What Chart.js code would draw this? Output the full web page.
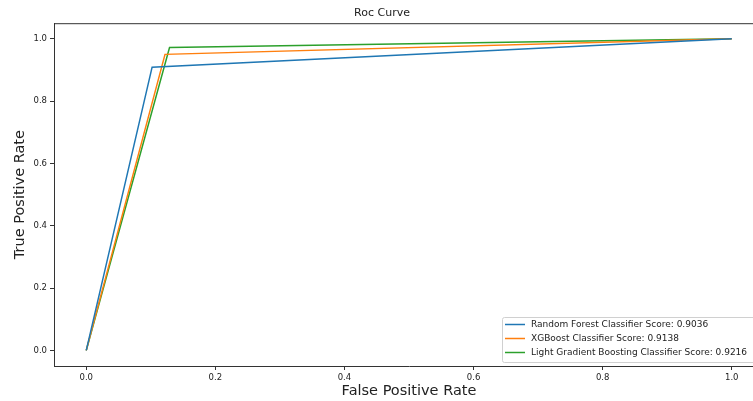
<!DOCTYPE html>
<html>
<head>
<meta charset="utf-8">
<script src="https://cdn.jsdelivr.net/npm/chart.js@4.4.0/dist/chart.umd.min.js"></script>
<style>
  html, body { margin: 0; padding: 0; background: #fff; overflow: hidden; }
  #roc { display: block; }
</style>
</head>
<body>
<canvas id="roc" width="800" height="401"></canvas>
<script>
// ROC points (false positive rate, true positive rate) per model
const seriesNames = [
    "Random Forest Classifier Score: 0.9036",
    "XGBoost Classifier Score: 0.9138",
    "Light Gradient Boosting Classifier Score: 0.9216",
];
const rfFpr = [0, 0.102, 1];
const rfTpr = [0, 0.909, 1];
const xgbFpr = [0, 0.122, 1];
const xgbTpr = [0, 0.950, 1];
const lgbFpr = [0, 0.129, 1];
const lgbTpr = [0, 0.972, 1];
const tickValues = [0, 0.2, 0.4, 0.6, 0.8, 1.0];
const colors = ["#1f77b4", "#ff7f0e", "#2ca02c"];

const FONT = "'DejaVu Sans', sans-serif";

function toPoints(xs, ys) {
    return xs.map((x, i) => ({ x: x, y: ys[i] }));
}

const datasets = [
    [rfFpr, rfTpr],
    [xgbFpr, xgbTpr],
    [lgbFpr, lgbTpr],
].map((pair, i) => ({
    label: seriesNames[i],
    data: toPoints(pair[0], pair[1]),
    borderColor: colors[i],
    backgroundColor: colors[i],
    borderWidth: 1.5,
    showLine: true,
    pointRadius: 0,
    tension: 0,
}));

// top/right spines
const frame = {
    id: "frame",
    afterDraw(chart) {
        const { ctx, chartArea: a } = chart;
        ctx.save();
        ctx.strokeStyle = "#333";
        ctx.lineWidth = 1;
        ctx.beginPath();
        ctx.moveTo(a.left, a.top + 0.5);
        ctx.lineTo(a.right, a.top + 0.5);
        ctx.lineTo(a.right, a.bottom);
        ctx.stroke();
        ctx.restore();
    },
};

// matplotlib style legend in the lower right corner
const boxLegend = {
    id: "boxLegend",
    afterDraw(chart) {
        const { ctx, chartArea: a } = chart;
        const x = 502, y = 317, w = a.right - 7 - x, h = 45;
        ctx.save();
        ctx.fillStyle = "rgba(255,255,255,0.8)";
        ctx.strokeStyle = "#d0d0d0";
        ctx.lineWidth = 1;
        ctx.beginPath();
        ctx.roundRect(x + 0.5, y + 0.5, w, h, 2);
        ctx.fill();
        ctx.stroke();
        ctx.font = "9px " + FONT;
        ctx.textBaseline = "middle";
        chart.data.datasets.forEach((ds, i) => {
            const ry = y + 7.5 + i * 14;
            ctx.strokeStyle = ds.borderColor;
            ctx.lineWidth = 1.5;
            ctx.beginPath();
            ctx.moveTo(x + 3, ry);
            ctx.lineTo(x + 23, ry);
            ctx.stroke();
            ctx.fillStyle = "#222";
            ctx.fillText(ds.label, x + 29, ry);
        });
        ctx.restore();
    },
};

function setTicks(scale) {
    scale.ticks = tickValues.map(v => ({ value: v }));
}

const axisCommon = {
    type: "linear",
    min: -0.05,
    max: 1.05,
    afterBuildTicks: setTicks,
    grid: {
        display: true,
        drawOnChartArea: false,
        drawTicks: true,
        tickLength: 4,
        tickColor: "#333",
        tickWidth: 1,
    },
    border: { display: true, color: "#333", width: 1 },
};

new Chart(document.getElementById("roc"), {
    type: "scatter",
    data: { datasets },
    options: {
        responsive: false,
        animation: false,
        layout: { padding: { left: 0, right: 36, top: 0, bottom: 0 } },
        plugins: {
            legend: { display: false },
            tooltip: { enabled: false },
            title: {
                display: true,
                text: "Roc Curve",
                color: "#222",
                font: { family: FONT, size: 11, weight: "normal" },
                padding: { top: 7, bottom: 3 },
            },
        },
        scales: {
            x: Object.assign({}, axisCommon, {
                afterFit(scale) { scale.height = 35; },
                ticks: {
                    autoSkip: false,
                    maxRotation: 0,
                    padding: 3,
                    color: "#222",
                    font: { family: FONT, size: 8.5 },
                    callback: v => v.toFixed(1),
                },
                title: {
                    display: true,
                    text: "False Positive Rate",
                    color: "#222",
                    font: { family: FONT, size: 14.5 },
                    padding: { top: 0, bottom: 1 },
                },
            }),
            y: Object.assign({}, axisCommon, {
                afterFit(scale) { scale.width = 54; },
                ticks: {
                    autoSkip: false,
                    padding: 3,
                    color: "#222",
                    font: { family: FONT, size: 8.5 },
                    callback: v => v.toFixed(1),
                },
                title: {
                    display: true,
                    text: "True Positive Rate",
                    color: "#222",
                    font: { family: FONT, size: 14.5 },
                    padding: { top: 12, bottom: 0 },
                },
            }),
        },
    },
    plugins: [frame, boxLegend],
});
</script>
</body>
</html>
